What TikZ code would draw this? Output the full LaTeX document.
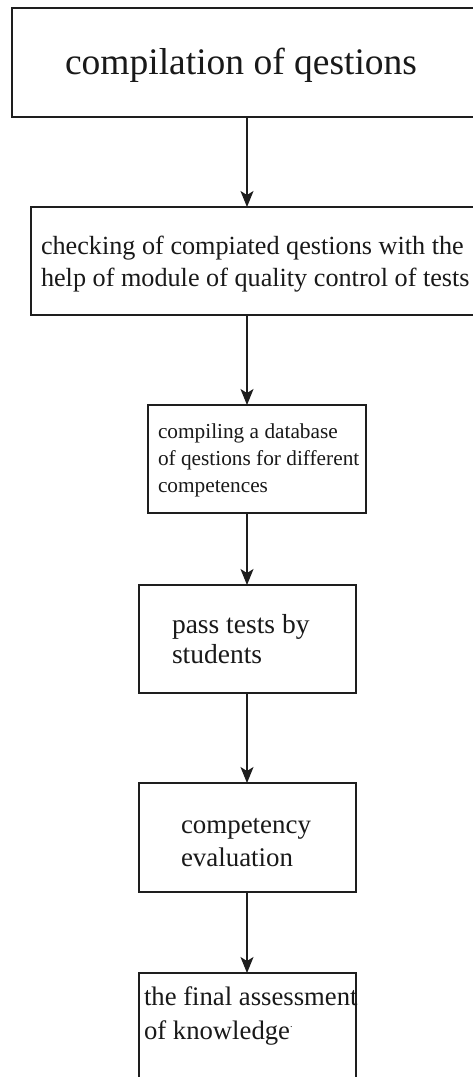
\documentclass[tikz,border=0pt]{standalone}
\usepackage{fontspec}
\setmainfont{Liberation Serif}
\usetikzlibrary{arrows.meta}
\definecolor{ink}{HTML}{1E1E1E}
\tikzset{
  box/.style={draw=ink, line width=1.4pt, rectangle, inner sep=0pt, outer sep=0pt, anchor=north west},
  txt/.style={anchor=base west, inner sep=0pt, outer sep=0pt, text=black!90},
  arr/.style={draw=ink, line width=1.3pt, -{Stealth[length=16pt,width=13pt,inset=4pt]}},
}
\newcommand{\fsz}[1]{\fontsize{#1}{#1}\selectfont}
\begin{document}
\begin{tikzpicture}[x=1pt,y=-1pt]
\useasboundingbox (0,0) rectangle (473,1077);
\fill[white] (0,0) rectangle (473,1077);
\clip (0,0) rectangle (473,1077);
\coordinate (ax) at (247,0);
% boxes
\node[box, minimum width=468pt, minimum height=109pt] (b1) at (12,8) {};
\node[box, minimum width=449pt, minimum height=108pt] (b2) at (31,207) {};
\node[box, minimum width=218pt, minimum height=108pt] (b3) at (148,405) {};
\node[box, minimum width=217pt, minimum height=108pt] (b4) at (139,585) {};
\node[box, minimum width=217pt, minimum height=109pt] (b5) at (139,783) {};
\node[box, minimum width=217pt, minimum height=130pt] (b6) at (139,973) {};
% texts
\node[txt, font=\fsz{37.5}] (t1) at (65,74) {compilation of qestions};
\node[txt, font=\fsz{26.2}] (t2a) at (41,254) {checking of compiated qestions with the};
\node[txt, font=\fsz{26.2}] (t2b) at (41,286) {help of module of quality control of tests};
\node[txt, font=\fsz{21.3}] (t3a) at (158,438) {compiling a database};
\node[txt, font=\fsz{21.3}] (t3b) at (158,465) {of qestions for different};
\node[txt, font=\fsz{21.3}] (t3c) at (158,492) {competences};
\node[txt, font=\fsz{27.5}] (t4a) at (172,633) {pass tests by};
\node[txt, font=\fsz{27.5}] (t4b) at (172,663) {students};
\node[txt, font=\fsz{26.9}] (t5a) at (181,833) {competency};
\node[txt, font=\fsz{26.9}] (t5b) at (181,866) {evaluation};
\node[txt, font=\fsz{26.7}] (t6a) at (144,1005) {the final assessment};
\node[txt, font=\fsz{26.7}] (t6b) at (144,1039) {of knowledge\raisebox{0.9ex}{\fsz{10}.}};
% arrows
\draw[arr] (b1.south -| ax) -- (b2.north -| ax);
\draw[arr] (b2.south -| ax) -- (b3.north -| ax);
\draw[arr] (b3.south -| ax) -- (b4.north -| ax);
\draw[arr] (b4.south -| ax) -- (b5.north -| ax);
\draw[arr] (b5.south -| ax) -- (b6.north -| ax);
\end{tikzpicture}
\end{document}
